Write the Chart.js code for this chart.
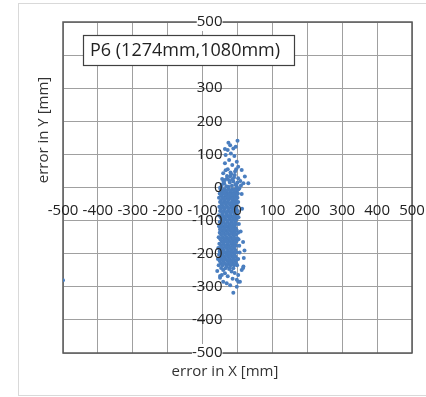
<!DOCTYPE html>
<html lang="en">
<head>
    <meta charset="UTF-8">
    <title>P6 error scatter</title>
    <script src="https://cdn.jsdelivr.net/npm/chart.js"></script>
    <style>
        html, body {
            margin: 0;
            padding: 0;
            background: white;
        }
        #wrap {
            width: 426px;
            height: 397px;
        }
    </style>
</head>
<body>
    <div id="wrap"><canvas id="errChart" width="426" height="397"></canvas></div>

    <script>
        // axis setup
        const axisMin = -500;
        const axisMax = 500;
        const axisStep = 100;
        const boxLabel = 'P6 (1274mm,1080mm)';
        const xTitle = 'error in X [mm]';
        const yTitle = 'error in Y [mm]';

        // error points [x, y] in mm
        const upperPoints = [
            [0,141],[-26,135],[-21,128],[-5,123],[-12,118],[-36,116],[-28,113],[-19,103],
            [-34,98],[-9,95],[-24,83],[-2,78],[-36,73],[-15,68],[2,63],[-28,55],[12,53],
            [-7,48],[-41,43],[-18,40],[21,33],[-21,33],[2,28],[-30,27],[-36,23],[-12,18],
            [8,20],[31,13],[17,13],[-45,8],[-4,10],[-26,2],[-2,2],[-50,-1],[-16,5],[5,-2],
            [-38,12],[-22,15],[-10,30],[-44,26],[-32,4],[-8,38],[10,6],
            [-40,18],[-30,35],[-14,24],[-6,8],[-24,22],[-46,2],[0,15],[-20,45],[-34,52],[-4,55]
        ];
        const bandPoints = [
            [-48,-5],[-37,-5],[-26,-5],[-15,-5],[-6,-5],[3,-5],
            [-44,-12],[-33,-12],[-21,-12],[-10,-12],[-2,-12],[12,-20],
            [-51,-18],[-40,-18],[-29,-18],[-17,-18],[-7,-18],[1,-18],
            [-46,-25],[-35,-25],[-24,-25],[-13,-25],[-4,-25],
            [-53,-31],[-42,-31],[-30,-31],[-19,-31],[-9,-31],[0,-31],
            [-47,-38],[-36,-38],[-25,-38],[-14,-38],[-5,-38],
            [-50,-44],[-39,-44],[-28,-44],[-16,-44],[-6,-44],[2,-44],
            [-45,-51],[-33,-51],[-22,-51],[-11,-51],[-3,-51],
            [-52,-58],[-41,-58],[-30,-58],[-18,-58],[-8,-58],[13,-64],
            [-47,-64],[-36,-64],[-24,-64],[-13,-64],[-4,-64],
            [-50,-71],[-39,-71],[-27,-71],[-16,-71],[-6,-71],[1,-71],
            [-44,-77],[-33,-77],[-21,-77],[-10,-77],[-2,-77],
            [-53,-84],[-42,-84],[-30,-84],[-19,-84],[-8,-84],
            [-48,-90],[-37,-90],[-25,-90],[-14,-90],[-4,-90],[3,-90],
            [-45,-97],[-34,-97],[-23,-97],[-12,-97],[-3,-97],
            [-51,-104],[-40,-104],[-28,-104],[-17,-104],[-7,-104],
            [-46,-110],[-35,-110],[-24,-110],[-13,-110],[-4,-110],[4,-110],
            [-53,-117],[-41,-117],[-30,-117],[-19,-117],[-9,-117],
            [-48,-123],[-37,-123],[-25,-123],[-14,-123],[-5,-123],
            [-44,-130],[-33,-130],[-22,-130],[-11,-130],[-2,-130],[9,-133],
            [-51,-137],[-40,-137],[-29,-137],[-18,-137],[-8,-137],[2,-137],
            [-47,-143],[-36,-143],[-24,-143],[-13,-143],[-4,-143],
            [-54,-150],[-42,-150],[-31,-150],[-20,-150],[-10,-150],
            [-49,-156],[-38,-156],[-26,-156],[-15,-156],[-5,-156],[3,-156],
            [-45,-163],[-34,-163],[-23,-163],[-12,-163],[-3,-163],[16,-165],
            [-52,-170],[-41,-170],[-29,-170],[-18,-170],[-8,-170],
            [-47,-176],[-36,-176],[-25,-176],[-14,-176],[-4,-176],[5,-176],
            [-55,-183],[-43,-183],[-32,-183],[-21,-183],[-10,-183],
            [-50,-189],[-39,-189],[-27,-189],[-16,-189],[-6,-189],[20,-190],
            [-46,-196],[-35,-196],[-24,-196],[-13,-196],[-3,-196],[6,-196],
            [-53,-203],[-42,-203],[-30,-203],[-19,-203],[-9,-203],
            [-48,-209],[-37,-209],[-26,-209],[-15,-209],[-5,-209],[18,-213],
            [-56,-216],[-44,-216],[-33,-216],[-22,-216],[-11,-216],[2,-216],
            [-51,-222],[-40,-222],[-28,-222],[-17,-222],[-7,-222],
            [-47,-229],[-36,-229],[-25,-229],[-14,-229],[-4,-229],
            [-54,-235],[-43,-235],[-31,-235],[-20,-235],[-10,-235],[-1,-235]
        ];
        const bandFillPoints = [
            [-42,-8],[-31,-9],[-20,-8],[-9,-9],
            [-47,-22],[-35,-21],[-23,-22],[-12,-21],[-2,-22],
            [-39,-34],[-27,-35],[-16,-34],[-4,-35],
            [-44,-48],[-33,-47],[-21,-48],[-10,-47],
            [-49,-61],[-38,-61],[-26,-62],[-14,-61],[-3,-62],
            [-42,-74],[-31,-74],[-19,-74],[-8,-75],
            [-47,-87],[-35,-87],[-23,-88],[-11,-87],[-1,-87],
            [-40,-100],[-29,-101],[-17,-100],[-6,-100],
            [-45,-114],[-34,-113],[-22,-114],[-10,-114],
            [-50,-127],[-38,-127],[-27,-126],[-15,-127],[-4,-127],
            [-43,-140],[-31,-140],[-19,-140],[-8,-141],
            [-48,-153],[-36,-153],[-24,-153],[-12,-153],[-1,-153],
            [-41,-166],[-29,-166],[-18,-167],[-7,-166],
            [-46,-180],[-34,-179],[-23,-180],[-11,-180],
            [-51,-193],[-40,-193],[-28,-193],[-17,-192],[-6,-193],
            [-44,-206],[-33,-206],[-21,-206],[-10,-206],
            [-49,-219],[-38,-219],[-26,-219],[-14,-219],[-3,-219],
            [-42,-232],[-30,-232],[-18,-232],[-7,-232],
            [-47,-243],[-35,-244],[-22,-243],[-12,-244],
            [-38,-14],[-28,-28],[-15,-56],[-30,-82],[-20,-118],[-34,-160],[-25,-198],[-20,-226]
        ];
        const lowerPoints = [
            [-31,-239],[17,-239],[-41,-249],[12,-249],[-17,-254],[-36,-259],[-45,-264],
            [2,-264],[-50,-267],[-2,-279],[2,-285],[-41,-285],[-31,-289],[-21,-295],
            [-12,-318],[-50,-273],[-2,-300],[7,-285],[16,-243],[-24,-246],[-8,-258],
            [-28,-268],[-58,-252],[-14,-276],[-500,-280]
        ];

        const allPoints = upperPoints.concat(bandPoints, bandFillPoints, lowerPoints)
            .map(p => ({ x: p[0], y: p[1] }));

        // outer frame, plot border, title box and axis titles
        const decorPlugin = {
            id: 'decor',
            beforeDraw(chart) {
                const c = chart.ctx;
                c.save();
                c.fillStyle = 'white';
                c.fillRect(0, 0, chart.width, chart.height);
                c.strokeStyle = '#d9d9d9';
                c.lineWidth = 1;
                c.strokeRect(18.5, 3.5, 420, 392);
                c.restore();
            },
            beforeDatasetsDraw(chart) {
                const c = chart.ctx;
                const a = chart.chartArea;
                c.save();
                c.strokeStyle = '#595959';
                c.lineWidth = 1.5;
                c.strokeRect(a.left, a.top, a.right - a.left, a.bottom - a.top);
                c.restore();
            },
            afterDraw(chart) {
                const c = chart.ctx;
                c.save();
                // label box
                c.fillStyle = 'white';
                c.fillRect(83, 35, 212, 31);
                c.strokeStyle = '#404040';
                c.lineWidth = 1.2;
                c.strokeRect(83.5, 35.5, 211, 30);
                c.fillStyle = '#222';
                c.font = '18px "Open Sans"';
                c.textBaseline = 'middle';
                c.textAlign = 'left';
                c.fillText(boxLabel, 90, 51);

                // axis titles
                c.fillStyle = '#333';
                c.font = '15px "Open Sans"';
                c.textAlign = 'center';
                c.fillText(xTitle, 225, 372);
                c.translate(44, 130);
                c.rotate(-Math.PI / 2);
                c.fillText(yTitle, 0, 0);
                c.restore();
            }
        };

        const tickFont = { family: 'Open Sans', size: 15 };

        // axes sit inside the plot, so their labels should not shrink it
        function noOverflow(scale) {
            scale.paddingLeft = 0;
            scale.paddingRight = 0;
            scale.paddingTop = 0;
            scale.paddingBottom = 0;
        }

        new Chart(document.getElementById('errChart'), {
            type: 'scatter',
            data: {
                datasets: [{
                    data: allPoints,
                    backgroundColor: '#4a7ebf',
                    borderWidth: 0,
                    pointRadius: 2,
                    pointHoverRadius: 2
                }]
            },
            options: {
                responsive: false,
                animation: false,
                events: [],
                layout: { padding: { left: 63, right: 14, top: 22, bottom: 44 } },
                plugins: {
                    legend: { display: false },
                    tooltip: { enabled: false }
                },
                scales: {
                    x: {
                        type: 'linear',
                        position: { y: 0 },
                        min: axisMin,
                        max: axisMax,
                        afterFit: noOverflow,
                        ticks: {
                            stepSize: axisStep,
                            font: tickFont,
                            color: '#222',
                            padding: 14,
                            maxRotation: 0,
                            autoSkip: false,
                            z: 1
                        },
                        grid: { color: '#a0a0a0', lineWidth: 1, drawTicks: false },
                        border: { display: false }
                    },
                    y: {
                        type: 'linear',
                        // tick padding is ignored for object positions, so the
                        // label column is anchored a little left of x = 0
                        position: { x: -43 },
                        min: axisMin,
                        max: axisMax,
                        afterFit: noOverflow,
                        ticks: {
                            stepSize: axisStep,
                            font: tickFont,
                            color: '#222',
                            autoSkip: false,
                            z: 1,
                            showLabelBackdrop: ctx => Math.abs(ctx.tick.value) === axisMax,
                            backdropColor: 'white',
                            backdropPadding: 0
                        },
                        grid: { color: '#a0a0a0', lineWidth: 1, drawTicks: false },
                        border: { display: false }
                    }
                }
            },
            plugins: [decorPlugin]
        });
    </script>
</body>
</html>
